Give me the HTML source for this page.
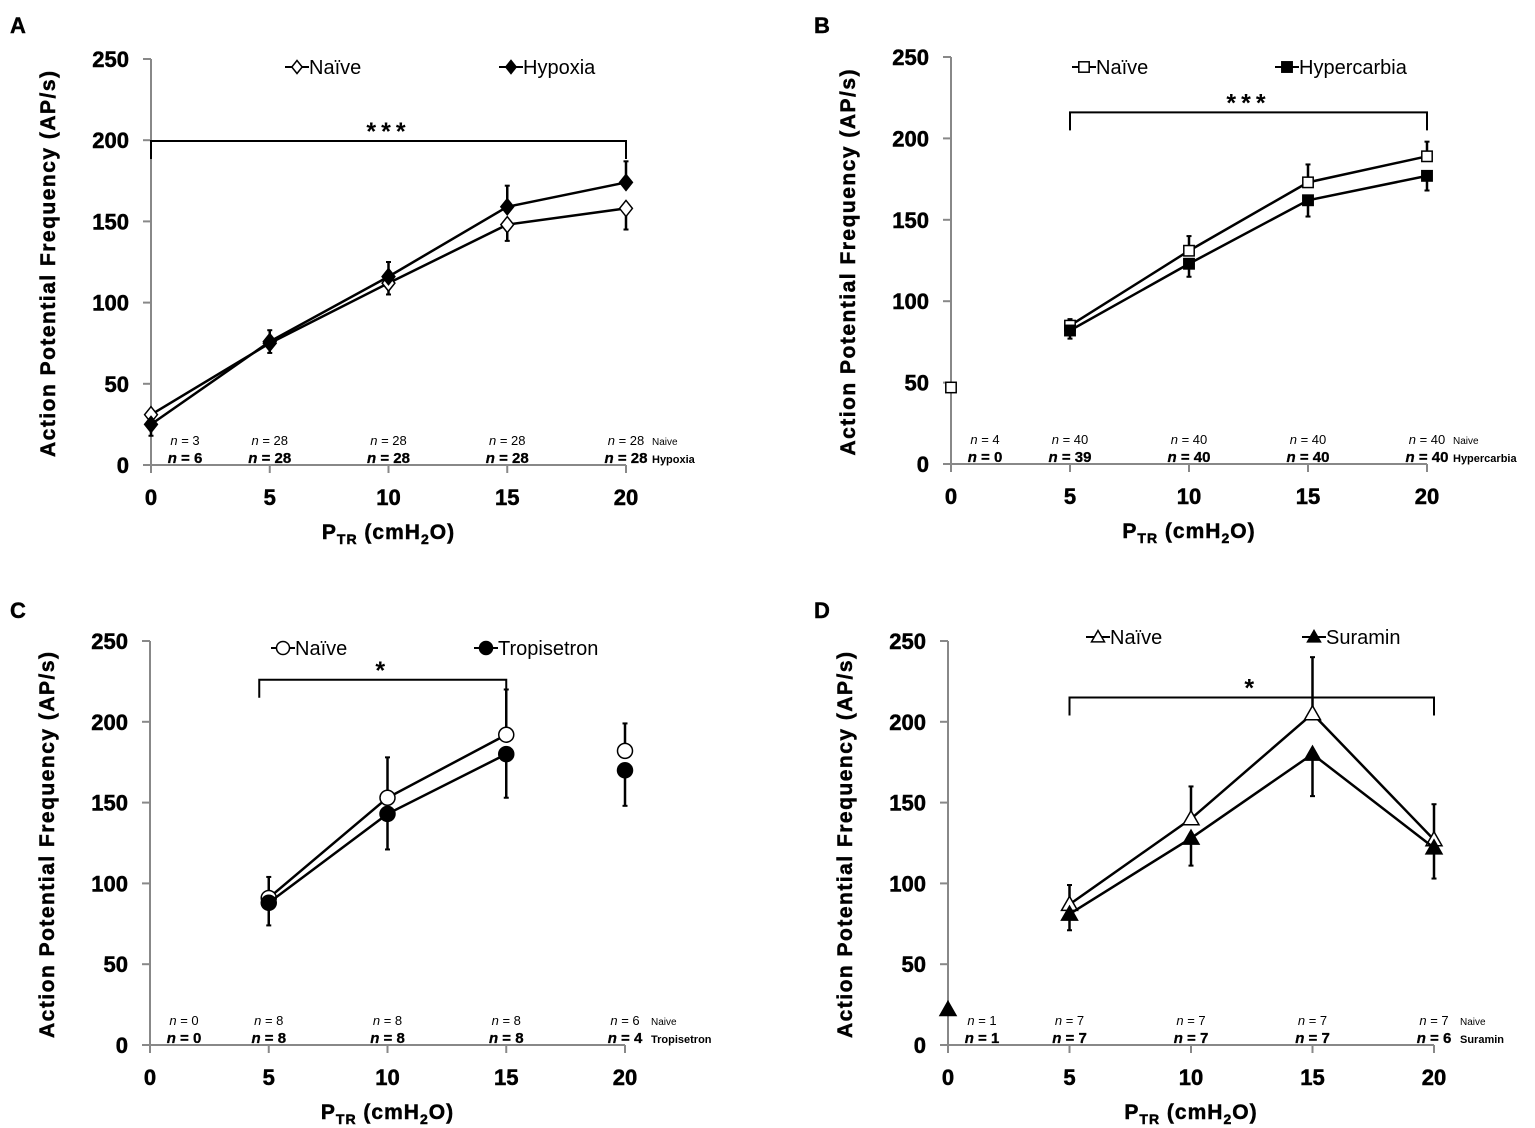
<!DOCTYPE html>
<html><head><meta charset="utf-8"><style>
html,body{margin:0;padding:0;background:#fff;}
svg{display:block;font-family:"Liberation Sans",Arial,sans-serif;}
</style></head><body>
<svg id="fig" width="1535" height="1128" viewBox="0 0 1535 1128"></svg>
<script>
// ---- data ----
const xCats = [0, 5, 10, 15, 20];
const yTicks = [0, 50, 100, 150, 200, 250];
// Panel A
const aNaive = [31, 75, 112, 148, 158];
const aNaiveErr = [0, -6, -7, -10, -13];
const aHyp = [25, 76, 116, 159, 174];
const aHypErr = [-7, 7, 9, 13, 13];
const aNNaive = ["3", "28", "28", "28", "28"];
const aNHyp = ["6", "28", "28", "28", "28"];
// Panel B
const bNaive = [47, 85, 131, 173, 189];
const bNaiveErr = [0, 4, 9, 11, 9];
const bHyp = [null, 82, 123, 162, 177];
const bHypErr = [0, -5, -8, -10, -9];
const bNNaive = ["4", "40", "40", "40", "40"];
const bNHyp = ["0", "39", "40", "40", "40"];
// Panel C
const cNaive = [null, 91, 153, 192, 182];
const cNaiveErr = [0, 13, 25, 28, 17];
const cTrop = [null, 88, 143, 180, 170];
const cTropErr = [0, -14, -22, -27, -22];
const cNNaive = ["0", "8", "8", "8", "6"];
const cNTrop = ["0", "8", "8", "8", "4"];
// Panel D
const dNaive = [null, 87, 140, 205, 127];
const dNaiveErr = [0, 12, 20, 35, 22];
const dSur = [22, 81, 128, 180, 122];
const dSurErr = [0, -10, -17, -26, -19];
const dNNaive = ["1", "7", "7", "7", "7"];
const dNSur = ["1", "7", "7", "7", "6"];

const NS = "http://www.w3.org/2000/svg";
const svg = document.getElementById('fig');
function el(tag, attrs, parent, txt) {
  const e = document.createElementNS(NS, tag);
  for (const k in attrs) e.setAttribute(k, attrs[k]);
  if (txt !== undefined) e.textContent = txt;
  (parent || svg).appendChild(e);
  return e;
}
function marker(g, shape, filled, cx, cy, s) {
  const f = filled ? '#000' : '#fff';
  let m;
  if (shape === 'diamond') m = el('polygon', {points: `${cx},${cy-s} ${cx+s*0.8},${cy} ${cx},${cy+s} ${cx-s*0.8},${cy}`, fill: f, stroke: '#000', 'stroke-width': 1.5}, g);
  else if (shape === 'square') m = el('rect', {x: cx-s*0.8, y: cy-s*0.8, width: s*1.6, height: s*1.6, fill: f, stroke: '#000', 'stroke-width': 1.5}, g);
  else if (shape === 'circle') m = el('circle', {cx: cx, cy: cy, r: s, fill: f, stroke: '#000', 'stroke-width': 1.5}, g);
  else m = el('polygon', {points: `${cx},${cy-s} ${cx+s},${cy+s*0.75} ${cx-s},${cy+s*0.75}`, fill: f, stroke: '#000', 'stroke-width': 1.5}, g);
  
  
  return m;
}

function panel(P) {
  const g = el('g', {});
  
  
  const xs = v => P.x0 + v * P.xu;
  const ys = v => P.y0 - v * (P.y0 - P.y250) / 250;
  const t = el('text', {x: P.lx, y: P.ly, 'font-size': 22, 'font-weight': 'bold', stroke: '#000', 'stroke-width': 0.4}, g, P.letter);
   
  // axes
  const ya = el('line', {x1: P.x0, y1: ys(0), x2: P.x0, y2: ys(250), stroke: '#888', 'stroke-width': 2}, g);
   
  const xa = el('line', {x1: P.x0 - 8, y1: ys(0), x2: xs(20), y2: ys(0), stroke: '#888', 'stroke-width': 2}, g);
   
  yTicks.forEach(v => {
    el('line', {x1: P.x0 - 8, y1: ys(v), x2: P.x0, y2: ys(v), stroke: '#888', 'stroke-width': 2}, g);
    const tl = el('text', {x: P.x0 - 22, y: ys(v) + 8, 'font-size': 22, 'font-weight': 'bold', 'text-anchor': 'end', stroke: '#000', 'stroke-width': 0.5}, g, String(v));
     
  });
  xCats.forEach(v => {
    el('line', {x1: xs(v), y1: ys(0), x2: xs(v), y2: ys(0) + 8, stroke: '#888', 'stroke-width': 2}, g);
    const tl = el('text', {x: xs(v), y: ys(0) + 40, 'font-size': 22, 'font-weight': 'bold', 'text-anchor': 'middle', stroke: '#000', 'stroke-width': 0.5}, g, String(v));
     
  });
  // axis titles
  const xt = el('text', {x: xs(10), y: ys(0) + 74, 'font-size': 21, 'font-weight': 'bold', 'text-anchor': 'middle', stroke: '#000', 'stroke-width': 0.5, 'letter-spacing': 1}, g);
   
  el('tspan', {}, xt, 'P');
  el('tspan', {'font-size': 14, dy: 5}, xt, 'TR');
  el('tspan', {dy: -5}, xt, ' (cmH');
  el('tspan', {'font-size': 14, dy: 5}, xt, '2');
  el('tspan', {dy: -5}, xt, 'O)');
  const ycx = P.x0 - 96, ycy = ys(125) + 2;
  const yt = el('text', {x: ycx, y: ycy, 'font-size': 21, 'font-weight': 'bold', 'text-anchor': 'middle', stroke: '#000', 'stroke-width': 0.5, textLength: 386, lengthAdjust: 'spacing', transform: `rotate(-90 ${ycx} ${ycy})`}, g, 'Action Potential Frequency (AP/s)');
   
  // bracket
  const by = ys(P.br[2]);
  const br = el('path', {d: `M${xs(P.br[0])},${by + 18} V${by} H${xs(P.br[1])} V${by + 18}`, fill: 'none', stroke: '#000', 'stroke-width': 2}, g);
   
  const st = el('text', {x: (xs(P.br[0]) + xs(P.br[1])) / 2 + (P.starDx || 0), y: by - 1, 'font-size': 25, 'font-weight': 'bold', 'text-anchor': 'middle', 'letter-spacing': 5}, g, P.stars);
   
  // series
  P.series.forEach((S, si) => {
    const sg = el('g', {}, g);
    
    
    S.vals.forEach((v, i) => {
      if (v === null || !S.err[i]) return;
      const e = el('line', {x1: xs(xCats[i]), y1: ys(v), x2: xs(xCats[i]), y2: ys(v + S.err[i]), stroke: '#000', 'stroke-width': 2.5}, sg);
       
      el('line', {x1: xs(xCats[i]) - 2.5, y1: ys(v + S.err[i]), x2: xs(xCats[i]) + 2.5, y2: ys(v + S.err[i]), stroke: '#000', 'stroke-width': 2}, sg);
    });
    let d = '';
    S.vals.forEach((v, i) => {
      if (v === null || i > P.lastConn) return;
      if (P.noLine0 && i === 0) return;
      d += (d ? 'L' : 'M') + xs(xCats[i]) + ',' + ys(v);
    });
    const ln = el('path', {d: d, fill: 'none', stroke: '#000', 'stroke-width': 2.5}, sg);
     
    S.vals.forEach((v, i) => {
      if (v === null) return;
      marker(sg, P.shape, S.filled, xs(xCats[i]), ys(v), P.ms);
    });
    const lx = P.leg[si][0], ly = P.leg[si][1];
    const lg = el('g', {}, g);
    
    
    el('line', {x1: lx - 12, y1: ly, x2: lx + 12, y2: ly, stroke: '#000', 'stroke-width': 2}, lg);
    marker(lg, P.shape, S.filled, lx, ly, 6.5);
    el('text', {x: lx + 12, y: ly + 7, 'font-size': 20}, lg, S.label);
    S.n.forEach((nv, i) => {
      const cx = xs(xCats[i]) + (i === 0 ? 34 : 0);
      const yy = ys(0) - (si === 0 ? 20 : 2);
      const nt = el('text', {x: cx, y: yy, 'font-size': si === 0 ? 13 : 15, 'font-weight': si === 0 ? 'normal' : 'bold', 'text-anchor': 'middle', stroke: si === 0 ? 'none' : '#000', 'stroke-width': 0.3}, g);
       
      el('tspan', {'font-style': 'italic'}, nt, 'n');
      el('tspan', {}, nt, ' = ' + nv);
      if (i === 4) {
        const tag = el('text', {x: cx + 26, y: yy, 'font-size': si === 0 ? 10 : 11, 'font-weight': si === 0 ? 'normal' : 'bold'}, g, si === 0 ? 'Naive' : S.label);
         
      }
    });
  });
}

panel({letter: 'A', lx: 10, ly: 33, x0: 151, xu: 23.75, y0: 465, y250: 59, shape: 'diamond', ms: 8, lastConn: 4,
  br: [0, 20, 199.5], stars: '***', leg: [[297, 67], [511, 67]],
  series: [{name: 'naive', label: 'Naïve', filled: false, vals: aNaive, err: aNaiveErr, n: aNNaive},
           {name: 'hypoxia', label: 'Hypoxia', filled: true, vals: aHyp, err: aHypErr, n: aNHyp}]});
panel({letter: 'B', lx: 814, ly: 33, x0: 951, xu: 23.8, y0: 464, y250: 57, shape: 'square', ms: 6.5, lastConn: 4, noLine0: true,
  br: [5, 20, 216], stars: '***', leg: [[1084, 67], [1287, 67]],
  series: [{name: 'naive', label: 'Naïve', filled: false, vals: bNaive, err: bNaiveErr, n: bNNaive},
           {name: 'hypercarbia', label: 'Hypercarbia', filled: true, vals: bHyp, err: bHypErr, n: bNHyp}]});
panel({letter: 'C', lx: 10, ly: 618, x0: 150, xu: 23.75, y0: 1045, y250: 641, shape: 'circle', ms: 7.5, lastConn: 3,
  br: [4.6, 15, 226], stars: '*', leg: [[283, 648], [486, 648]],
  series: [{name: 'naive', label: 'Naïve', filled: false, vals: cNaive, err: cNaiveErr, n: cNNaive},
           {name: 'tropisetron', label: 'Tropisetron', filled: true, vals: cTrop, err: cTropErr, n: cNTrop}]});
panel({letter: 'D', lx: 814, ly: 618, x0: 948, xu: 24.3, y0: 1045, y250: 641, shape: 'triangle', ms: 8, lastConn: 4, noLine0: true,
  br: [5, 20, 215], stars: '*', starDx: 0, leg: [[1098, 637], [1314, 637]],
  series: [{name: 'naive', label: 'Naïve', filled: false, vals: dNaive, err: dNaiveErr, n: dNNaive},
           {name: 'suramin', label: 'Suramin', filled: true, vals: dSur, err: dSurErr, n: dNSur}]});
</script>
</body></html>
